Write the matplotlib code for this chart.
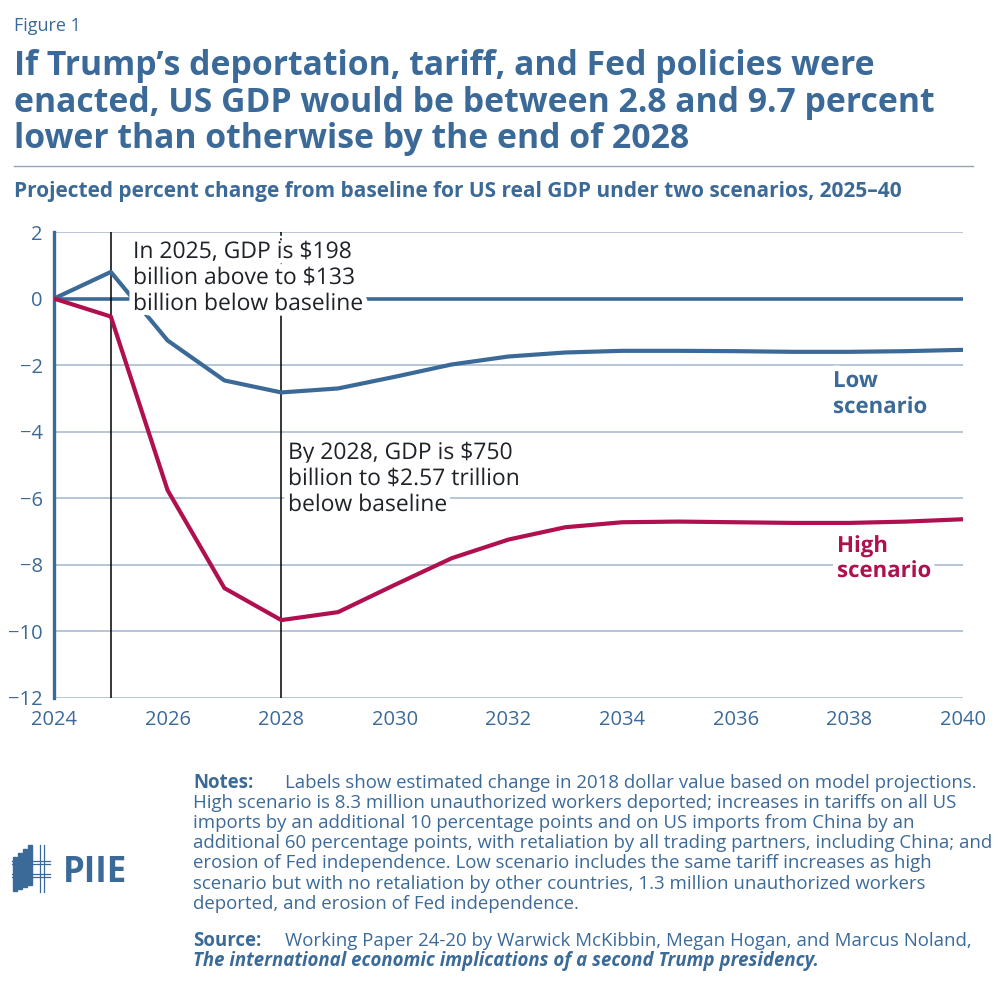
import matplotlib
matplotlib.use("Agg")
import matplotlib.pyplot as plt
import matplotlib.patheffects as pe
from matplotlib.patches import Rectangle

# data
years = list(range(2024, 2041))
low = [0, 0.8, -1.26, -2.46, -2.82, -2.7, -2.35, -1.98, -1.74, -1.62, -1.57,
       -1.57, -1.58, -1.6, -1.6, -1.58, -1.54]
high = [0, -0.54, -5.76, -8.7, -9.66, -9.42, -8.6, -7.8, -7.24, -6.87, -6.72,
        -6.7, -6.72, -6.74, -6.74, -6.7, -6.63]
xticks = list(range(2024, 2041, 2))
yticks = list(range(-12, 3, 2))

BLUE = "#3b6a98"
RED = "#b0104f"
GRID = "#a9bccd"
TXT = "#1f2328"

plt.rcParams["font.family"] = ["Open Sans", "DejaVu Sans"]

W, H = 1000, 997
fig = plt.figure(figsize=(10, 9.97), dpi=100)


def px(x, y):
    # pixel position (from top-left) -> figure fraction
    return x / W, 1 - y / H


def lines(x, y0, dy, texts, **kw):
    for i, t in enumerate(texts):
        fx, fy = px(x, y0 + i * dy)
        fig.text(fx, fy, t, va="baseline", ha="left", **kw)


ax = fig.add_axes([0.054, 0.2999, 0.909, 0.4674])

for y in yticks:
    if y != 0:
        ax.axhline(y, color=GRID, lw=1.2, zorder=1)
ax.axhline(0, color=BLUE, lw=2.6, zorder=2)
for x in [2025, 2028]:
    ax.axvline(x, color="black", lw=1.1, zorder=2)

ax.plot(years, low, color=BLUE, lw=3, zorder=3)
ax.plot(years, high, color=RED, lw=3, zorder=3)

ax.set_xlim(2024, 2040)
ax.set_ylim(-12, 2)
ax.set_xticks(xticks)
ax.set_yticks(yticks)
ax.set_yticklabels([str(v).replace("-", "\u2212") for v in yticks])
ax.tick_params(length=0, labelsize=14.5, labelcolor=BLUE)
ax.tick_params(axis="y", pad=8)
ax.tick_params(axis="x", pad=9)
for s in ["top", "right", "bottom"]:
    ax.spines[s].set_visible(False)
ax.spines["left"].set_color(BLUE)
ax.spines["left"].set_linewidth(2.4)

halo = [pe.withStroke(linewidth=8, foreground="white")]
lines(133, 258, 26, ["In 2025, GDP is $198", "billion above to $133", "billion below baseline"],
      fontsize=16.5, color=TXT, path_effects=halo, zorder=5)
lines(288, 459, 26, ["By 2028, GDP is $750", "billion to $2.57 trillion", "below baseline"],
      fontsize=16.5, color=TXT, path_effects=halo, zorder=5)
lines(833, 387, 26, ["Low", "scenario"], fontsize=16, fontweight="bold", color=BLUE,
      path_effects=halo, zorder=5)
lines(837, 552, 25, ["High", "scenario"], fontsize=16, fontweight="bold", color=RED,
      path_effects=halo, zorder=5)

# header
lines(14, 31, 0, ["Figure 1"], fontsize=13, color=BLUE)
lines(14, 75, 36.5, ["If Trump\u2019s deportation, tariff, and Fed policies were",
                     "enacted, US GDP would be between 2.8 and 9.7 percent",
                     "lower than otherwise by the end of 2028"],
      fontsize=24.3, fontweight="bold", color=BLUE)
fig.add_artist(plt.Line2D([0.014, 0.973], [px(0, 166)[1]] * 2, color="#8fa5bb", lw=1))
lines(14, 197, 0, ["Projected percent change from baseline for US real GDP under two scenarios, 2025\u201340"],
      fontsize=15, fontweight="bold", color=BLUE)

# notes and source
nfs = 13.4
lines(193, 788, 0, ["Notes:"], fontsize=nfs, fontweight="bold", color=BLUE)
lines(285, 788, 0, ["Labels show estimated change in 2018 dollar value based on model projections."],
      fontsize=nfs, color=BLUE)
lines(193, 807.8, 20.2, [
    "High scenario is 8.3 million unauthorized workers deported; increases in tariffs on all US",
    "imports by an additional 10 percentage points and on US imports from China by an",
    "additional 60 percentage points, with retaliation by all trading partners, including China; and",
    "erosion of Fed independence. Low scenario includes the same tariff increases as high",
    "scenario but with no retaliation by other countries, 1.3 million unauthorized workers",
    "deported, and erosion of Fed independence."], fontsize=nfs, color=BLUE)
lines(193, 946, 0, ["Source:"], fontsize=nfs, fontweight="bold", color=BLUE)
lines(285, 946, 0, ["Working Paper 24-20 by Warwick McKibbin, Megan Hogan, and Marcus Noland,"],
      fontsize=nfs, color=BLUE)
lines(193, 965.5, 0, ["The international economic implications of a second Trump presidency."],
      fontsize=nfs, color=BLUE, fontweight="bold", style="italic")

# PIIE logo
tops = [857, 853, 849, 845]
bots = [891, 889, 887, 885]
for i in range(4):
    x0, y0 = px(13 + i * 5, bots[i])
    fig.add_artist(Rectangle((x0, y0), 4 / W, (bots[i] - tops[i]) / H,
                             color=BLUE, transform=fig.transFigure))
for yy in [861, 864, 874, 877]:
    fig.add_artist(plt.Line2D([px(12, 0)[0], px(50, 0)[0]], [px(0, yy)[1]] * 2, color=BLUE, lw=0.9))
for xx in [40, 44]:
    fig.add_artist(plt.Line2D([px(xx, 0)[0]] * 2, [px(0, 845)[1], px(0, 892)[1]], color=BLUE, lw=0.9))
lines(63, 882, 0, ["PIIE"], fontsize=25, fontweight="bold", color=BLUE)

fig.savefig("out.png", dpi=100, facecolor="white")
